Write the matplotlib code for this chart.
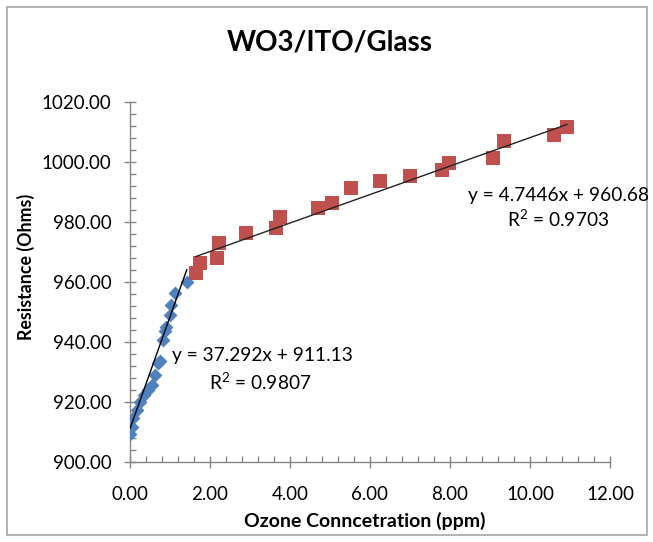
import matplotlib
matplotlib.use("Agg")
import matplotlib.pyplot as plt
from matplotlib.ticker import MultipleLocator, FormatStrFormatter
from matplotlib.patches import Rectangle
import numpy as np

# Data
blue_x = [0.00, 0.04, 0.08, 0.17, 0.25, 0.35, 0.46, 0.54, 0.62, 0.71, 0.75,
          0.83, 0.88, 0.90, 1.00, 1.02, 1.12, 1.42]
blue_y = [909.3, 911.8, 914.6, 917.3, 920.1, 922.3, 924.0, 925.7, 929.0, 932.9,
          933.8, 940.7, 943.7, 945.1, 949.0, 952.3, 956.3, 960.1]
red_x = [1.65, 1.75, 2.17, 2.23, 2.89, 3.64, 3.75, 4.69, 5.04, 5.53, 6.25,
         7.00, 7.79, 7.98, 9.07, 9.36, 10.60, 10.92]
red_y = [963.0, 966.3, 967.9, 972.9, 976.4, 977.9, 981.8, 984.6, 986.4, 991.2,
         993.8, 995.3, 997.3, 999.6, 1001.4, 1007.0, 1009.0, 1011.8]
blue_fit = (37.292, 911.13)
red_fit = (4.7446, 960.68)
blue_eq = "y = 37.292x + 911.13"
blue_r2 = "R$^2$ = 0.9807"
red_eq = "y = 4.7446x + 960.68"
red_r2 = "R$^2$ = 0.9703"
title = "WO3/ITO/Glass"
xlabel = "Ozone Conncetration (ppm)"
ylabel = "Resistance (Ohms)"

plt.rcParams['font.family'] = ['Lato', 'DejaVu Sans']
plt.rcParams['mathtext.fontset'] = 'custom'
plt.rcParams['mathtext.rm'] = 'Lato'

W, H = 653, 542
fig = plt.figure(figsize=(W / 100, H / 100), dpi=100)
fig.patches.append(Rectangle((7 / W, 7 / H), 640 / W, 528 / H, transform=fig.transFigure,
                             fill=False, edgecolor='#a6a6a6', linewidth=1.2))
ax = fig.add_axes([130 / W, 1 - 462 / H, 480 / W, 360 / H])

ax.scatter(blue_x, blue_y, marker='D', s=50, color='#4F81BD', zorder=3, linewidths=0)
ax.scatter(red_x, red_y, marker='s', s=95, color='#C0504D', zorder=3, linewidths=0)

bx = np.array([min(blue_x), max(blue_x)])
ax.plot(bx, blue_fit[0] * bx + blue_fit[1], color='black', lw=1.0, zorder=4)
rx = np.array([min(red_x), max(red_x)])
ax.plot(rx, red_fit[0] * rx + red_fit[1], color='#222222', lw=1.0, zorder=4)

ax.set_xlim(0, 12)
ax.set_ylim(900, 1020)
ax.xaxis.set_major_locator(MultipleLocator(2))
ax.xaxis.set_minor_locator(MultipleLocator(0.4))
ax.yaxis.set_major_locator(MultipleLocator(20))
ax.yaxis.set_minor_locator(MultipleLocator(4))
ax.xaxis.set_major_formatter(FormatStrFormatter('%.2f'))
ax.yaxis.set_major_formatter(FormatStrFormatter('%.2f'))

for s in ['top', 'right']:
    ax.spines[s].set_visible(False)
for s in ['left', 'bottom']:
    ax.spines[s].set_color('#868686')
    ax.spines[s].set_linewidth(1.0)
ax.tick_params(which='major', direction='inout', length=9, color='#868686', width=1.0,
               labelsize=13.5)
ax.tick_params(axis='x', which='major', pad=13)
ax.tick_params(axis='y', which='major', pad=9)
ax.tick_params(which='minor', direction='in', length=4, color='#868686', width=1.0)

ax.set_xlabel(xlabel, fontsize=14, fontweight='bold')
ax.xaxis.set_label_coords((365 - 130) / 480, (462 - 512) / 360)
ax.set_ylabel(ylabel, fontsize=12.8, fontweight='bold')
ax.yaxis.set_label_coords((35 - 130) / 480, (462 - 267) / 360)
fig.text(330 / W, 1 - 42 / H, title, ha='center', va='center', fontsize=20, fontweight='bold')

fig.text(262 / W, 1 - 356 / H, blue_eq, fontsize=13.8, ha='center', va='center')
fig.text(260 / W, 1 - 382 / H, blue_r2, fontsize=13.8, ha='center', va='center')
fig.text(558 / W, 1 - 195 / H, red_eq, fontsize=13.8, ha='center', va='center')
fig.text(558 / W, 1 - 219 / H, red_r2, fontsize=13.8, ha='center', va='center')

fig.savefig("out.png", dpi=100)
